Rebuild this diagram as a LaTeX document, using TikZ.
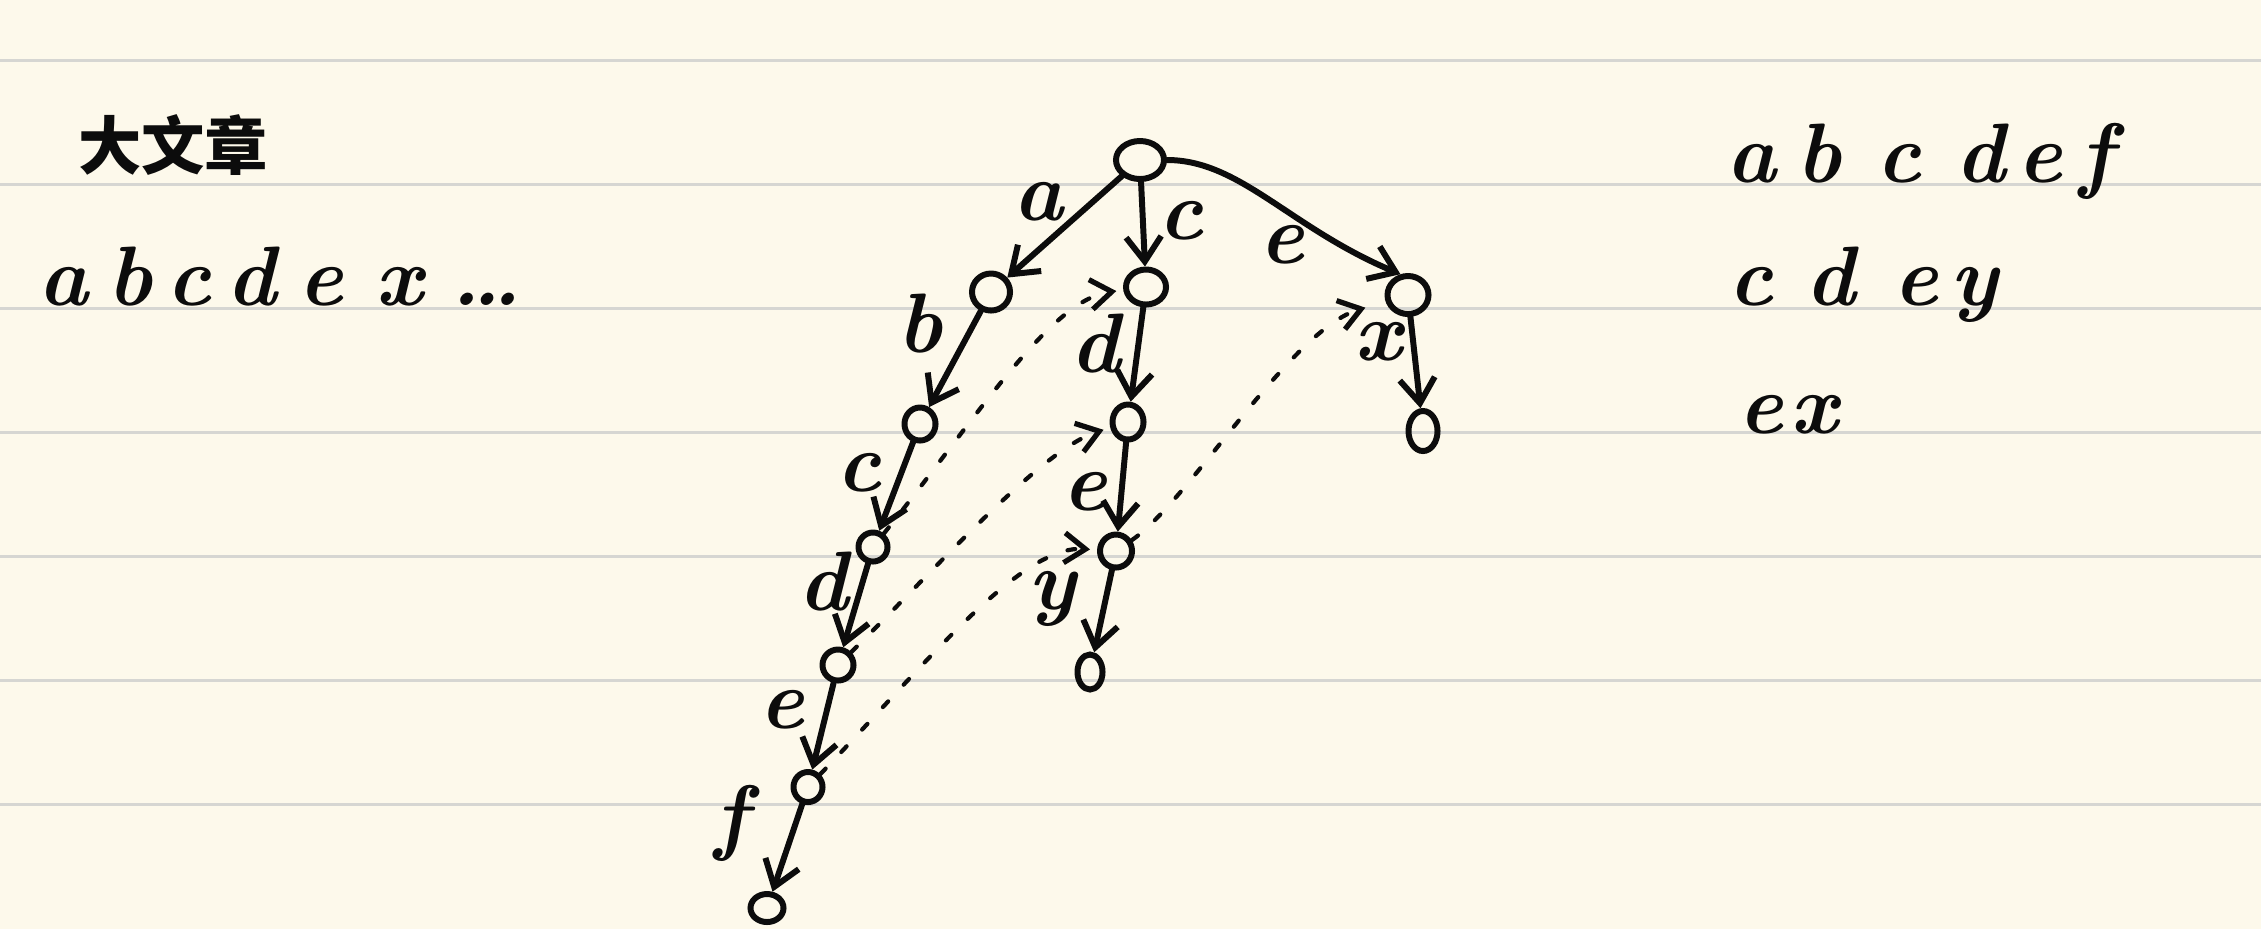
\documentclass[tikz,border=0pt]{standalone}
\usepackage{fontspec}
\newfontfamily\cjkfont{Noto Sans CJK SC}
\usetikzlibrary{arrows.meta,shapes.geometric}
\definecolor{paper}{RGB}{253,249,235}
\definecolor{ruleln}{RGB}{214,214,210}
\definecolor{ink}{RGB}{12,12,12}
\newcommand\lcell[2]{\makebox[#1pt][l]{#2}}
\begin{document}
\begin{tikzpicture}[x=0.01cm,y=-0.01cm,
  tn/.style={ellipse,draw=ink,line width=1.7pt,inner sep=0pt},
  nd/.style 2 args={tn,minimum width=#1cm,minimum height=#2cm},
  edge/.style={draw=ink,line width=1.7pt,line cap=round,
    -{Straight Barb[length=7pt,width=10pt]}},
  fl/.style={draw=ink,line width=1.2pt,line cap=round,dash pattern=on 2.2pt off 6.5pt,
    -{Straight Barb[length=6pt,width=8.5pt,line width=1.5pt]}},
  txt/.style={font=\fontsize{24}{28}\selectfont\bfseries\itshape,text=ink,inner sep=0pt},
  lbl/.style={font=\fontsize{24}{28}\selectfont\bfseries\itshape,text=ink,inner sep=0pt},
  ruling/.style={draw=ruleln,line width=0.9pt}]
% paper
\fill[paper] (0,0) rectangle (2261,929);
\useasboundingbox (0,0) rectangle (2261,929);
\foreach \yy in {60.6,184.6,308.6,432.6,556.7,680.7,804.7}
  \draw[ruling] (0,\yy) -- (2261,\yy);
% left texts
\node[font=\cjkfont\bfseries\fontsize{18}{20}\selectfont,text=ink,inner sep=0pt] (title) at (173,145) {大文章};
\node[txt,anchor=base west] (text) at (38,305)
  {\lcell{19.6}{a}\lcell{16.8}{b}\lcell{17.1}{c}\lcell{20.5}{d}\lcell{21.9}{e}\lcell{21.3}{x}\ldots};
% right texts
\node[txt,anchor=base west] (p1) at (1726,182)
  {\lcell{19.9}{a}\lcell{22.8}{b}\lcell{22.5}{c}\lcell{17.4}{d}\lcell{17.6}{e}f};
\node[txt,anchor=base west] (p2) at (1728,305)
  {\lcell{21.9}{c}\lcell{25.0}{d}\lcell{16.2}{e}y};
\node[txt,anchor=base west] (p3) at (1738,433)
  {\lcell{14.8}{e}x};
% trie nodes
\node[nd={0.48}{0.38}] (root) at (1140,160) {};
\node[nd={0.38}{0.37}] (A) at (991,292) {};
\node[nd={0.40}{0.35}] (C) at (1146,287) {};
\node[nd={0.41}{0.38}] (E) at (1408,295) {};
\node[nd={0.31}{0.33}] (AB) at (920,424) {};
\node[nd={0.31}{0.35}] (CD) at (1128,422) {};
\node[nd={0.29}{0.40}] (EX) at (1423,431) {};
\node[nd={0.29}{0.29}] (ABC) at (873,547) {};
\node[nd={0.32}{0.33}] (CDE) at (1116,551) {};
\node[nd={0.31}{0.31}] (ABCD) at (838,665) {};
\node[nd={0.25}{0.35}] (CDEY) at (1090,672) {};
\node[nd={0.29}{0.30}] (ABCDE) at (808,787) {};
\node[nd={0.33}{0.28}] (ABCDEF) at (767,908) {};
% trie edges
\draw[edge] (root) -- (A);
\draw[edge] (root) -- (C);
\draw[edge] (root.east) .. controls (1240,160) and (1290,228) .. (E.110);
\draw[edge] (A) -- (AB);
\draw[edge] (C) -- (CD);
\draw[edge] (E) -- (EX);
\draw[edge] (AB) -- (ABC);
\draw[edge] (CD) -- (CDE);
\draw[edge] (ABC) -- (ABCD);
\draw[edge] (CDE) -- (CDEY);
\draw[edge] (ABCD) -- (ABCDE);
\draw[edge] (ABCDE) -- (ABCDEF);
% edge labels
\node[lbl] (la) at (1038,202) {a};
\node[lbl] (lc1) at (1181,221) {c};
\node[lbl] (le1) at (1282,245) {e};
\node[lbl] (lb) at (920,323) {b};
\node[lbl] (ld1) at (1095,343) {d};
\node[lbl] (lx) at (1378,342) {x};
\node[lbl] (lc2) at (859,473) {c};
\node[lbl] (le2) at (1085,492) {e};
\node[lbl] (ld2) at (823,581) {d};
\node[lbl] (ly) at (1052,599) {y};
\node[lbl] (le3) at (782,710) {e};
\node[lbl] (lf) at (731,823) {f};
% failure links
\draw[fl,shorten >=2pt] (ABC) .. controls (975,420) and (1050,300) .. (C);
\draw[fl,shorten >=2pt] (ABCD) .. controls (930,575) and (1040,450) .. (CD);
\draw[fl,shorten >=2pt] (ABCDE) .. controls (920,670) and (1020,545) .. (CDE);
\draw[fl,shorten >=6pt] (CDE) .. controls (1190,500) and (1290,330) .. (E);
\end{tikzpicture}
\end{document}
